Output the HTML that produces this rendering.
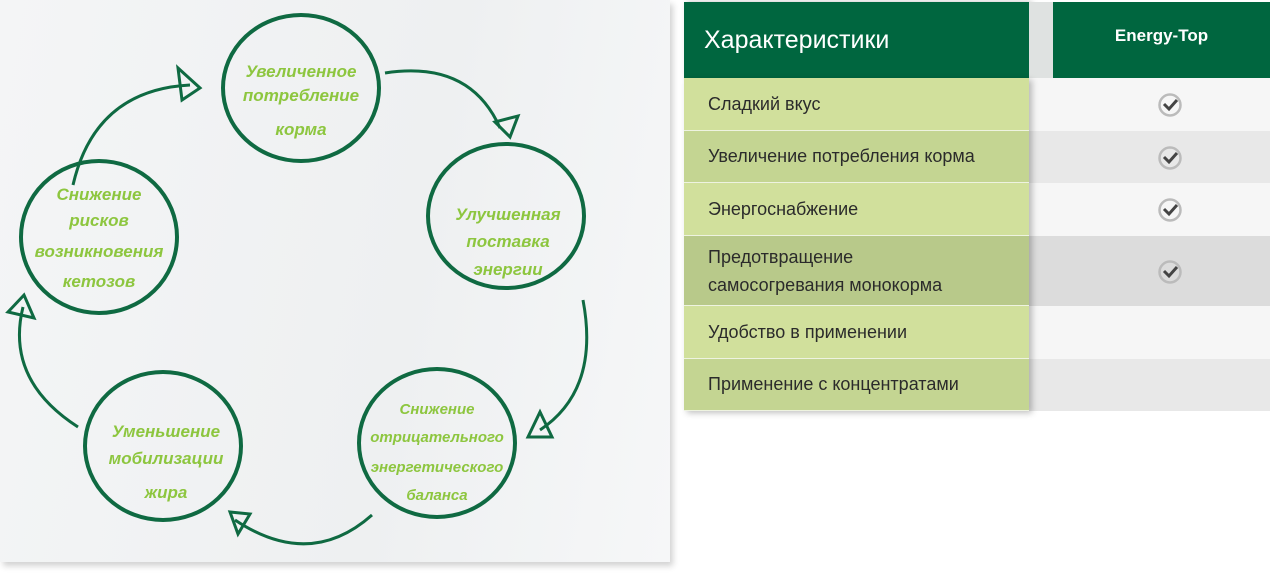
<!DOCTYPE html>
<html><head><meta charset="utf-8"><style>
body{margin:0;width:1270px;height:574px;background:#fff;position:relative;overflow:hidden;font-family:"Liberation Sans","DejaVu Sans",sans-serif}
.paper{position:absolute;left:0;top:0;width:670px;height:562px;background:linear-gradient(100deg,#f4f5f6,#eef0f1 60%,#f6f7f8);box-shadow:3px 4px 6px rgba(0,0,0,.18)}
.cell{position:absolute;box-sizing:border-box}
.l{left:684px;width:345px;padding-left:24px;font-size:18px;color:#2b2b2b;display:flex;align-items:center;border-bottom:1px solid #eef3e0}
.r{left:1029px;width:241px}
.chk{position:absolute;left:1157px;width:26px;height:26px}
</style></head><body>
<div class="paper"></div>
<svg width="680" height="574" style="position:absolute;left:0;top:0" font-family="'Liberation Sans',sans-serif">
<g fill="none" stroke="#0f6a42" stroke-width="4">
<ellipse cx="301" cy="88" rx="78" ry="73"/>
<ellipse cx="506" cy="216" rx="78" ry="72"/>
<ellipse cx="99" cy="237" rx="78" ry="76"/>
<ellipse cx="437" cy="443" rx="78" ry="74"/>
<ellipse cx="163" cy="446" rx="78" ry="74"/>
<g stroke-width="3">
<path d="M385 73 Q470 60 500 128"/>
<path d="M583 300 Q600 390 540 430"/>
<path d="M372 515 Q310 570 235 520"/>
<path d="M78 427 Q5 380 23 307"/>
<path d="M73 185 Q95 90 190 85"/>
<path d="M178 68 L200 88 L182 100 Z"/>
<path d="M495 122 L518 116 L510 137 Z"/>
<path d="M528 437 L540 412 L552 437 Z"/>
<path d="M230 512 L250 514 L238 534 Z"/>
<path d="M8 312 L24 295 L34 318 Z"/>
</g></g>
<g fill="#8dc63f" font-size="17" font-style="italic" font-weight="bold" text-anchor="middle">
<text x="301" y="77">Увеличенное</text><text x="301" y="101">потребление</text><text x="301" y="135">корма</text>
<text x="508" y="220">Улучшенная</text><text x="508" y="247">поставка</text><text x="508" y="275">энергии</text>
<text x="99" y="200">Снижение</text><text x="99" y="226">рисков</text><text x="99" y="257">возникновения</text><text x="99" y="287">кетозов</text>
<text x="437" y="414" font-size="15">Снижение</text><text x="437" y="442" font-size="15">отрицательного</text><text x="437" y="472" font-size="15">энергетического</text><text x="437" y="500" font-size="15">баланса</text>
<text x="166" y="437">Уменьшение</text><text x="166" y="464">мобилизации</text><text x="166" y="498">жира</text>
</g>
</svg>
<div class="cell" style="left:684px;top:2px;width:345px;height:76px;background:#00663f;color:#fff;font-size:25px;padding-left:20px;display:flex;align-items:center;box-shadow:3px 0 6px rgba(0,0,0,.25)">Характеристики</div>
<div class="cell" style="left:1029px;top:2px;width:24px;height:76px;background:#dfe2e1"></div>
<div class="cell" style="left:1053px;top:2px;width:217px;height:76px;background:#00663f;color:#fff;font-weight:bold;font-size:17px;display:flex;align-items:center;justify-content:center;padding-bottom:8px">Energy-Top</div>
<div class="cell r" style="top:78px;height:53px;background:#f6f6f6"></div>
<div class="cell r" style="top:131px;height:52px;background:#e8e8e8"></div>
<div class="cell r" style="top:183px;height:53px;background:#f6f6f6"></div>
<div class="cell r" style="top:236px;height:70px;background:#dcdcdc"></div>
<div class="cell r" style="top:306px;height:53px;background:#f6f6f6"></div>
<div class="cell r" style="top:359px;height:52px;background:#e8e8e8"></div>
<div class="cell" style="left:684px;top:78px;width:345px;height:333px;box-shadow:3px 2px 6px rgba(0,0,0,.25)"></div>
<div class="cell l" style="top:78px;height:53px;background:#d1e09c">Сладкий вкус</div>
<div class="cell l" style="top:131px;height:52px;background:#c4d592">Увеличение потребления корма</div>
<div class="cell l" style="top:183px;height:53px;background:#d1e09c">Энергоснабжение</div>
<div class="cell l" style="top:236px;height:70px;background:#b8c98a;line-height:28px">Предотвращение<br>самосогревания монокорма</div>
<div class="cell l" style="top:306px;height:53px;background:#d1e09c">Удобство в применении</div>
<div class="cell l" style="top:359px;height:52px;background:#c4d592">Применение с концентратами</div>
<svg class="chk" style="top:92px" viewBox="0 0 26 26"><circle cx="13" cy="13" r="10.5" fill="none" stroke="#bbb" stroke-width="2.5"/><path d="M7 12 L12 17 L20 8" fill="none" stroke="#444" stroke-width="3"/></svg>
<svg class="chk" style="top:145px" viewBox="0 0 26 26"><circle cx="13" cy="13" r="10.5" fill="none" stroke="#bbb" stroke-width="2.5"/><path d="M7 12 L12 17 L20 8" fill="none" stroke="#444" stroke-width="3"/></svg>
<svg class="chk" style="top:197px" viewBox="0 0 26 26"><circle cx="13" cy="13" r="10.5" fill="none" stroke="#bbb" stroke-width="2.5"/><path d="M7 12 L12 17 L20 8" fill="none" stroke="#444" stroke-width="3"/></svg>
<svg class="chk" style="top:259px" viewBox="0 0 26 26"><circle cx="13" cy="13" r="10.5" fill="none" stroke="#bbb" stroke-width="2.5"/><path d="M7 12 L12 17 L20 8" fill="none" stroke="#444" stroke-width="3"/></svg>
</body></html>
